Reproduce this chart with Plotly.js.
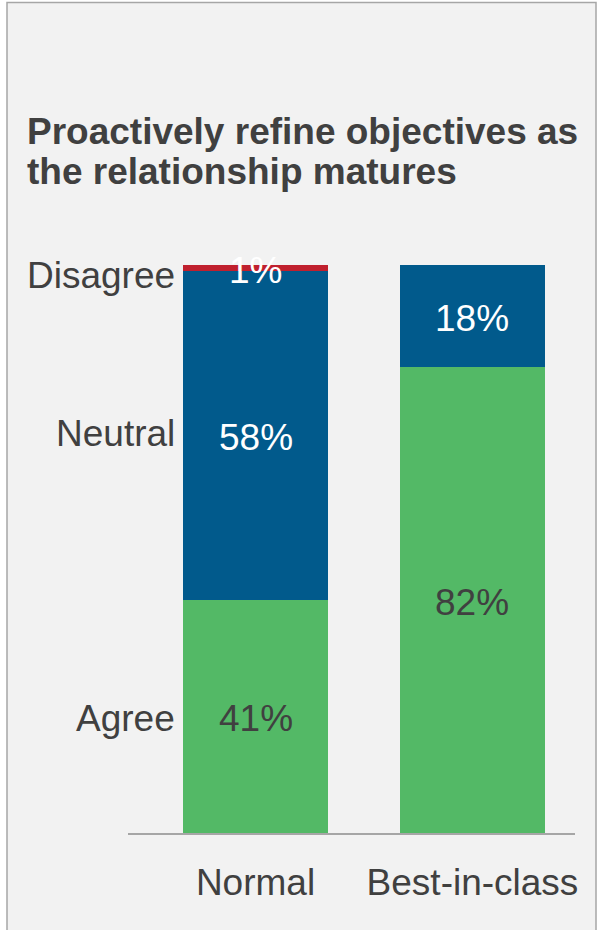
<!DOCTYPE html>
<html>
<head>
<meta charset="utf-8">
<script src="https://cdn.plot.ly/plotly-3.0.1.min.js"></script>
<style>
html,body{margin:0;padding:0;background:#ffffff;}
#chart{width:597px;height:930px;}
</style>
</head>
<body>
<div id="chart"></div>
<script>
// Data
const categories = ["Normal", "Best-in-class"];
const seriesNames = ["Agree", "Neutral", "Disagree"];
const agree = [41, 82];
const neutral = [58, 18];
const disagree = [1, 0];
const titleLines = ["Proactively refine objectives as", "the relationship matures"];

const colors = {Agree: "#53b966", Neutral: "#015a8c", Disagree: "#c0202e"};
const labelColors = {Agree: "#404040", Neutral: "#ffffff", Disagree: "#ffffff"};
const FONT = "Liberation Sans, Arial, sans-serif";
const W = 597, H = 930;
const L = 128, R = 22, T = 265, B = 97;
const PW = W - L - R, PH = H - T - B;
const px2x = p => (p - L) / PW;
const py2y = p => (H - B - p) / PH;

const seriesVals = [agree, neutral, disagree];
const traces = seriesNames.map((n, i) => ({
  type: "bar",
  name: n,
  x: categories,
  y: seriesVals[i],
  marker: {color: colors[n], line: {width: 0}},
  width: 0.668,
  hoverinfo: "skip",
  showlegend: false
}));

const annotations = [];
// value labels at segment midpoints
categories.forEach((c, ci) => {
  let base = 0;
  seriesVals.forEach((vals, si) => {
    const v = vals[ci];
    if (v > 0) {
      annotations.push({
        x: c, y: base + v / 2, xref: "x", yref: "y",
        text: v + "%", showarrow: false,
        font: {family: FONT, size: 37, color: labelColors[seriesNames[si]]},
        xanchor: "center", yanchor: "middle",
        yshift: si === 2 ? -3 : -2
      });
    }
    base += v;
  });
});
// series labels alongside first bar
{
  let base = 0;
  seriesVals.forEach((vals, si) => {
    const v = vals[0];
    annotations.push({
      x: px2x(177), xref: "paper", y: base + v / 2, yref: "y",
      text: seriesNames[si], showarrow: false,
      font: {family: FONT, size: 37, color: "#404040"},
      xanchor: "right", yanchor: "middle",
      yshift: si === 2 ? -8 : (si === 1 ? 2 : -2)
    });
    base += v;
  });
}
// title lines
titleLines.forEach((t, i) => {
  annotations.push({
    x: px2x(25), xref: "paper", y: py2y(131 + i * 40), yref: "paper",
    text: "<b>" + t + "</b>", showarrow: false,
    font: {family: FONT, size: 37, color: "#404040"},
    xanchor: "left", yanchor: "middle"
  });
});

const layout = {
  width: W, height: H,
  margin: {l: L, r: R, t: T, b: B, pad: 0},
  paper_bgcolor: "#ffffff",
  plot_bgcolor: "rgba(0,0,0,0)",
  barmode: "stack",
  bargap: 0,
  showlegend: false,
  xaxis: {
    type: "category",
    range: [-0.5876, 1.4724],
    showgrid: false, zeroline: false,
    showline: true, linecolor: "#a6a6a6", linewidth: 2,
    ticks: "", ticklabelstandoff: 16,
    tickfont: {family: FONT, size: 37, color: "#404040"},
    fixedrange: true
  },
  yaxis: {
    range: [0, 100],
    showgrid: false, zeroline: false, showline: false,
    showticklabels: false, ticks: "",
    fixedrange: true
  },
  shapes: [{
    type: "rect", xref: "paper", yref: "paper", layer: "below",
    x0: px2x(7), x1: px2x(596), y0: py2y(940), y1: py2y(2.5),
    fillcolor: "#f2f2f2", line: {color: "#a6a6a6", width: 1.5}
  }],
  annotations: annotations
};

Plotly.newPlot("chart", traces, layout, {displayModeBar: false, staticPlot: true});
</script>
</body>
</html>
